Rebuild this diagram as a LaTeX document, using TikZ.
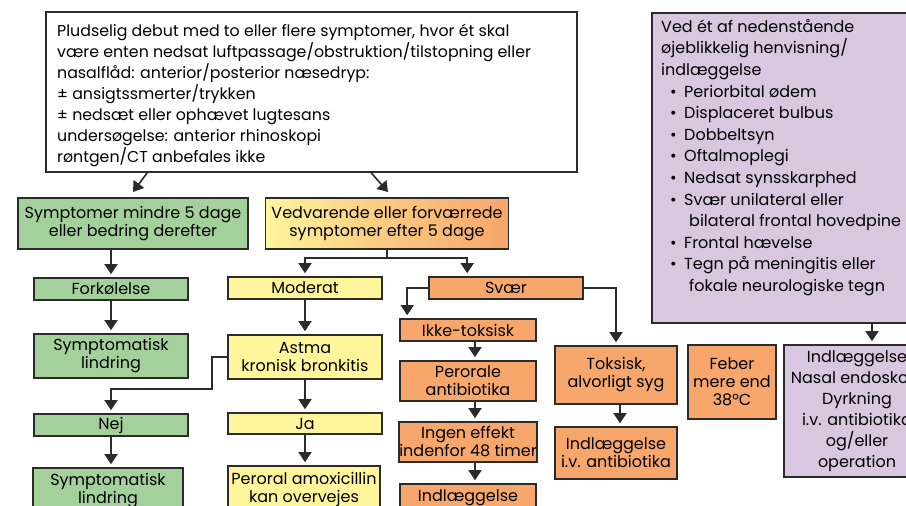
\documentclass[tikz,border=0pt]{standalone}
\usepackage{fontspec}
\setmainfont{Poppins}
\usetikzlibrary{arrows.meta,calc}
\definecolor{linec}{HTML}{2B2B2B}
\definecolor{gfill}{HTML}{A4D09B}
\definecolor{yfill}{HTML}{FFF59B}
\definecolor{ofill}{HTML}{F7A66C}
\definecolor{pfill}{HTML}{D8C7DF}
\newcommand\bitem{\hspace*{9pt}\makebox[14pt][l]{•}}
\newcommand\bcont{\hspace*{28pt}}
\begin{document}
\begin{tikzpicture}[x=1pt,y=-1pt,
  box/.style={draw=linec,line width=1.6pt,inner sep=0pt,align=center,
    font=\fontsize{16}{18}\selectfont},
  gbox/.style={box,fill=gfill},
  ybox/.style={box,fill=yfill},
  obox/.style={box,fill=ofill},
  pbox/.style={box,fill=pfill},
  wh/.style args={#1x#2}{minimum width=#1,minimum height=#2},
  conn/.style={draw=linec,line width=1.6pt},
  arr/.style={conn,-{Triangle[length=10pt,width=13pt]},shorten >=3pt}]
\useasboundingbox (0,0) rectangle (906,506);
\clip (0,0) rectangle (906,506);
\fill[white] (0,0) rectangle (906,506);

% presenting symptoms
\node[box,fill=white,wh=531x160] (top) at (311.5,92) {};
\node[anchor=west,inner sep=0pt,align=left,
  font=\fontsize{15.8}{21}\selectfont] (toptext) at (57,95)
  {Pludselig debut med to eller flere symptomer, hvor ét skal\\
   være enten nedsat luftpassage/obstruktion/tilstopning eller\\
   nasalflåd: anterior/posterior næsedryp:\\
   ± ansigtssmerter/trykken\\
   ± nedsæt eller ophævet lugtesans\\
   undersøgelse: anterior rhinoskopi\\
   røntgen/CT anbefales ikke};

% left branch
\node[gbox,wh=230x51] (s1) at (133,223.5) {Symptomer mindre 5 dage\\eller bedring derefter};
\node[gbox,wh=154x22] (fork) at (111,289) {Forkølelse};
\node[gbox,wh=154x44] (sl1) at (111,356) {Symptomatisk\\lindring};
\node[gbox,wh=154x22] (nej) at (111,425) {Nej};
\node[gbox,wh=150x46] (sl2) at (108,491) {Symptomatisk\\lindring};

% persistent symptoms
\node[box,left color=yfill,right color=ofill,middle color=yfill!45!ofill,wh=243x51] (ved) at (387,223.5)
  {Vedvarende eller forværrede\\symptomer efter 5 dage};
\node[ybox,wh=154x22] (mod) at (305,288) {Moderat};
\node[ybox,wh=154x44] (astma) at (305,357) {Astma\\kronisk bronkitis};
\node[ybox,wh=154x21] (ja) at (305,423.5) {Ja};
\node[ybox,wh=152x46] (amox) at (304,489) {Peroral amoxicillin\\kan overvejes};

% severe
\node[obox,wh=154x22] (svaer) at (506,288) {Svær};
\node[obox,wh=136x22] (ikke) at (468,330) {Ikke-toksisk};
\node[obox,wh=136x40] (pero) at (468,381) {Perorale\\antibiotika};
\node[obox,wh=136x40] (ingen) at (468,442) {Ingen effekt\\indenfor 48 timer};
\node[obox,wh=136x46] (indl) at (468,507) {Indlæggelse\\\strut};
\node[obox,wh=122x58] (toks) at (616,375) {Toksisk,\\alvorligt syg};
\node[obox,wh=122x52] (indl2) at (616,453) {Indlæggelse\\i.v. antibiotika};
\node[obox,wh=88x74] (feber) at (732,382) {Feber\\mere end\\38°C};

% red flags
\node[pbox,wh=278x310] (pur1) at (791,168) {};
\node[anchor=north west,inner sep=0pt,align=left,
  font=\fontsize{16}{21.6}\selectfont] (flags) at (661,19)
  {Ved ét af nedenstående\\
   øjeblikkelig henvisning/\\
   indlæggelse\\
   \bitem Periorbital ødem\\
   \bitem Displaceret bulbus\\
   \bitem Dobbeltsyn\\
   \bitem Oftalmoplegi\\
   \bitem Nedsat synsskarphed\\
   \bitem Svær unilateral eller\\
   \bcont bilateral frontal hovedpine\\
   \bitem Frontal hævelse\\
   \bitem Tegn på meningitis eller\\
   \bcont fokale neurologiske tegn};
\node[pbox,wh=146x132,font=\fontsize{16}{21}\selectfont] (pur2) at (857,411)
  {Indlæggelse\\Nasal endoskopi\\Dyrkning\\i.v. antibiotika\\og/eller\\operation};

% connectors
\coordinate (ta) at (133,192);
\coordinate (tb) at (388,192);
\draw[arr,shorten >=0pt] ($(top.south west)+(102,0)$) -- (ta);
\draw[arr,shorten >=0pt] ($(top.south west)+(326,0)$) -- (tb);

\draw[arr] (s1.south -| fork.north) -- (fork.north);
\draw[arr] (fork) -- (sl1);
\draw[arr] (astma.west) -- ++(-15,0) |- ($(nej.north)+(0,-24)$) -- (nej.north);
\draw[arr] (nej.south) -- (nej.south |- sl2.north);

\draw[conn] (ved.south) -- ++(0,8) coordinate (vj);
\draw[arr] (vj) -| (mod.north);
\draw[arr] (vj) -| ($(svaer.north west)+(39,0)$);
\draw[arr] (mod) -- (astma);
\draw[arr] (astma) -- (ja);
\draw[arr] (ja) -- (ja.south |- amox.north);

\draw[arr] (svaer.west) -| ($(ikke.north west)+(8,0)$);
\draw[arr] (svaer.east) -| (toks.north);
\draw[arr] ($(ikke.south)+(7,0)$) -- ($(pero.north)+(7,0)$);
\draw[arr] ($(pero.south)+(7,0)$) -- ($(ingen.north)+(7,0)$);
\draw[arr] ($(ingen.south)+(7,0)$) -- ($(indl.north)+(7,0)$);
\draw[arr] ($(toks.south)+(4,0)$) -- ($(indl2.north)+(4,0)$);

\coordinate (pj) at (872,0);
\draw[arr] (pur1.south -| pj) -- (pur2.north -| pj);
\end{tikzpicture}
\end{document}
